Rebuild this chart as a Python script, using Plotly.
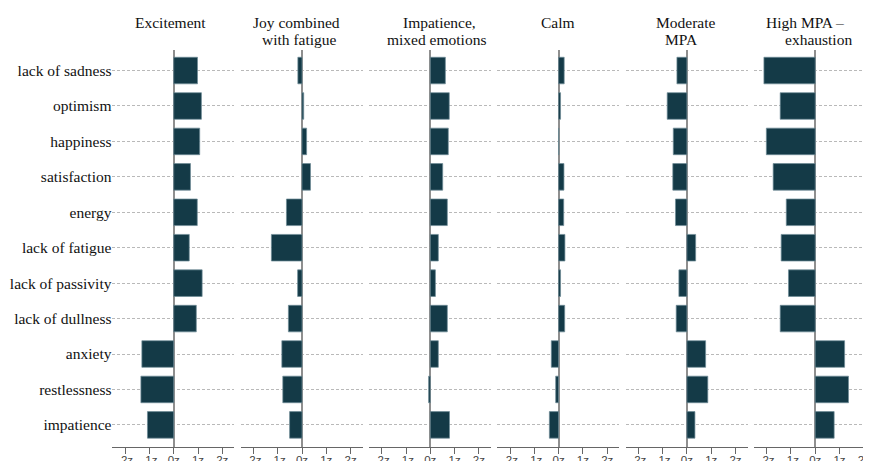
import plotly.graph_objects as go
from plotly.subplots import make_subplots

categories = ["lack of sadness", "optimism", "happiness", "satisfaction", "energy",
              "lack of fatigue", "lack of passivity", "lack of dullness", "anxiety",
              "restlessness", "impatience"]

tick_vals = [-2, -1, 0, 1, 2]
tick_text = ["-2z", "-1z", "0z", "1z", "2z"]

excitement = [0.98, 1.14, 1.07, 0.69, 0.97, 0.64, 1.17, 0.93, -1.31, -1.35, -1.08]
joy_fatigue = [-0.17, 0.07, 0.19, 0.35, -0.64, -1.26, -0.18, -0.56, -0.83, -0.79, -0.51]
impatience_mixed = [0.62, 0.78, 0.74, 0.51, 0.70, 0.33, 0.21, 0.70, 0.33, -0.07, 0.79]
calm = [0.23, 0.08, 0.01, 0.22, 0.21, 0.26, 0.08, 0.25, -0.30, -0.12, -0.38]
moderate_mpa = [-0.41, -0.81, -0.56, -0.58, -0.47, 0.36, -0.33, -0.44, 0.77, 0.86, 0.33]
high_mpa = [-2.11, -1.44, -2.01, -1.73, -1.19, -1.40, -1.10, -1.44, 1.21, 1.37, 0.78]

series = [excitement, joy_fatigue, impatience_mixed, calm, moderate_mpa, high_mpa]

# title lines per panel: (text, center x on page, px)
title_lines = [
    [("Excitement", 170)],
    [("Joy combined", 296), ("with fatigue", 299)],
    [("Impatience,", 439), ("mixed emotions", 436)],
    [("Calm", 558)],
    [("Moderate", 685.5), ("MPA", 681)],
    [("High MPA –", 805), ("exhaustion", 818)],
]

W, H = 871, 461
OFF = 8  # page body margin: figure is drawn 8px right/down of the page origin
BAR_COLOR = "#143A47"
SERIF = "Liberation Serif, Times New Roman, serif"


def fx(p):
    return (p - OFF) / W


def fy(p):
    return (H - (p - OFF)) / H


fig = make_subplots(rows=1, cols=6, shared_yaxes=True)

ypos = list(range(len(categories)))
for i, vals in enumerate(series):
    fig.add_trace(go.Bar(
        x=vals, y=ypos, orientation="h", width=0.75,
        marker=dict(color=BAR_COLOR, line=dict(color="rgba(110,140,150,0.9)", width=0.8)),
        showlegend=False, hoverinfo="skip"), row=1, col=i + 1)

zero0, pitch, px_per_z = 173.7, 128.3, 24.3
left_range = -2.52
y_top, y_bot = 50, 446.5

for i in range(6):
    zero = zero0 + pitch * i
    left = zero + left_range * px_per_z
    right = left + 122
    rng_right = (right - zero) / px_per_z
    key = "xaxis" if i == 0 else f"xaxis{i + 1}"
    fig.layout[key].update(
        domain=[fx(left), min(fx(right), 1.0)], range=[left_range, rng_right],
        tickvals=tick_vals, ticktext=tick_text, automargin=False,
        showgrid=False, zeroline=True, zerolinecolor="#8f8f8f", zerolinewidth=1.6,
        showline=True, linecolor="#666666", linewidth=1,
        ticks="outside", ticklen=6, tickcolor="#666666", tickwidth=1,
        ticklabelstandoff=-3,
        tickfont=dict(family="Liberation Sans, Arial, sans-serif", size=11.5, color="#444444"),
    )
    ykey = "yaxis" if i == 0 else f"yaxis{i + 1}"
    fig.layout[ykey].update(
        domain=[fy(y_bot), fy(y_top)],
        range=[10.61, -0.58], automargin=False,
        tickvals=ypos, ticktext=categories,
        showgrid=True, gridcolor="#b9b9b9", gridwidth=1, griddash="3px,2px",
        zeroline=False, showline=False, ticks="",
        tickfont=dict(family=SERIF, size=15.5, color="#111111"),
        showticklabels=(i == 0),
    )

annotations = []
for lines in title_lines:
    for j, (txt, cx) in enumerate(lines):
        baseline = 27.5 + 17.5 * j
        annotations.append(dict(
            text=txt, x=fx(cx), y=fy(baseline - 5.2),
            xref="paper", yref="paper", xanchor="center", yanchor="middle",
            showarrow=False, font=dict(family=SERIF, size=15.5, color="#111111")))

fig.update_layout(
    width=W, height=H,
    margin=dict(l=0, r=0, t=0, b=0, autoexpand=False),
    paper_bgcolor="white", plot_bgcolor="white",
    annotations=annotations,
    bargap=0.25,
)

fig.write_html("out.html")
